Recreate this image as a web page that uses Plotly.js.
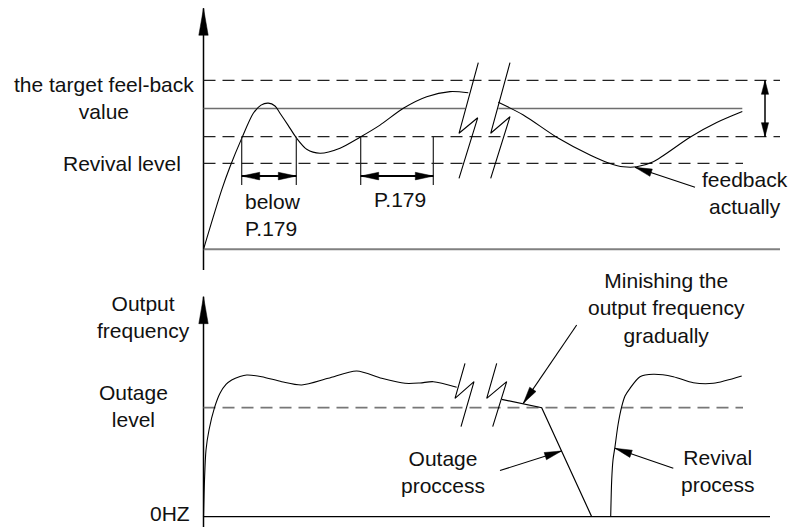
<!DOCTYPE html>
<html><head><meta charset="utf-8">
<script src="https://cdn.plot.ly/plotly-3.0.1.min.js"></script>
<style>html,body{margin:0;padding:0;background:#fff}</style>
</head><body><div id="chart" style="width:790px;height:527px"></div>
<script>
// ---------------- DATA ----------------
// Top panel: feedback value (arbitrary units)
const targetValue = 5;
const bandUpper = 6;
const bandLower = 4;
const revivalLevel = 3.05;
const topAxisExtent = [-0.735, 8.56];
const topLineEnd = 115.3;
const targetSeg1 = [0, 52.3];
const targetSeg2 = [58.96, 107.76];
const revivalEnd = 107.9;

const fbTime1 = [0, 3.64, 5.3, 7.64, 9.96, 11.5, 12.96, 14.3, 15.3, 16.9, 18.64, 20.64, 23.3, 27.3, 31.3, 35.3, 39.96, 44.64, 49.3, 52.96];
const fbValue1 = [0, 2.11, 2.93, 3.94, 4.83, 5.12, 5.19, 5.09, 4.83, 4.41, 3.94, 3.55, 3.41, 3.59, 3.98, 4.41, 5.01, 5.42, 5.6, 5.56];
const fbTime2 = [58.96, 63.96, 70.64, 77.3, 81.3, 83.96, 86.64, 89.96, 97.3, 102.64, 107.76];
const fbValue2 = [5.22, 4.77, 3.98, 3.35, 3.05, 2.93, 2.93, 3.11, 3.98, 4.5, 4.89];

const breakTopX1 = [54.96, 51.1, 54.84, 51.1];
const breakTopY1 = [6.63, 4.12, 4.67, 2.52];
const breakTopX2 = [61.3, 57.44, 61.3, 57.44];
const breakTopY2 = [6.63, 4.12, 4.71, 2.52];

const tickTimes = [7.64, 18.56, 31.44, 45.96];
const tickExtent = [4, 2.28];
const spanLevel = 2.6;
const bandArrowTime = 112.3;
const fbPointerTail = [98.3, 2.2];
const fbPointerTip = [86.3, 2.91];

// Bottom panel: output frequency (Hz)
const outageLevel = 30;
const botAxisExtent = [-2.835, 60.56];
const botLineEnd = 113.3;
const outageEnd = 107.9;
const freqTime1 = [0, 0.2, 0.5, 1.1, 2.2, 3.3, 4.5, 5.64, 7.3, 8.64, 11.64, 15.64, 19.64, 24.96, 30.64, 35.64, 40.3, 43.3, 45.96, 50.64];
const freqHz1 = [0, 10.1, 18.36, 23.86, 30, 33.97, 36.39, 37.63, 38.59, 39.0, 38.54, 37.16, 36.25, 38.1, 40.1, 38.1, 36.72, 36.8, 37.16, 35.62];
const freqTime2 = [59.64, 67.64, 77.64];
const freqHz2 = [32.31, 30, 0];
const freqTime3 = [81.44, 81.64, 81.9, 82.3, 82.9, 83.64, 84.3, 85.3, 87.3, 89.96, 93.96, 97.96, 101.96, 107.64];
const freqHz3 = [0, 10.1, 15.61, 19.27, 25.24, 30.28, 33.22, 35.34, 38.54, 39.2, 38.54, 36.88, 36.72, 38.73];

const breakBotX1 = [52.3, 50.3, 54.1, 51.5];
const breakBotX2 = [58.64, 56.64, 60.64, 57.84];
const breakBotY = [42.22, 32.59, 37.16, 24.77];

const minishTail = [74.64, 52.77];
const minishTip = [63.96, 31.2];
const outageTail = [59.3, 12.72];
const outageTip = [71.6, 18.08];
const revivalTail = [93.96, 13.32];
const revivalTip = [82.3, 18.83];

// ---------------- LAYOUT ----------------
const W = 790, H = 527;
const xRange = [-40.7, 117.3];
const yTopRange = [-9.862, 8.853];
const yBotRange = [-2.835, 142.22];
const kx = W / (xRange[1] - xRange[0]);
const kyTop = H / (yTopRange[1] - yTopRange[0]);
const kyBot = H / (yBotRange[1] - yBotRange[0]);

const traces = [];
function line(x, y, ax, color, width, dash, shape) {
  traces.push({type: 'scatter', mode: 'lines', x: x, y: y, yaxis: ax,
    line: {color: color, width: width, dash: dash || 'solid', shape: shape || 'linear', smoothing: 0.8},
    hoverinfo: 'skip', showlegend: false});
}
const DASH = '12px,7px';

// top panel
line([0, 0], topAxisExtent, 'y', '#000', 1.5);
line([0, topLineEnd], [0, 0], 'y', '#808080', 2);
line([0, topLineEnd], [bandUpper, bandUpper], 'y', '#222', 1.2, DASH);
line([0, topLineEnd], [bandLower, bandLower], 'y', '#222', 1.2, DASH);
line([0, revivalEnd], [revivalLevel, revivalLevel], 'y', '#222', 1.2, DASH);
line([targetSeg1[0], targetSeg1[1], null, targetSeg2[0], targetSeg2[1]],
     [targetValue, targetValue, null, targetValue, targetValue], 'y', '#6e6e6e', 1.4);
line(fbTime1, fbValue1, 'y', '#000', 1.1, null, 'spline');
line(fbTime2, fbValue2, 'y', '#000', 1.1, null, 'spline');
line(breakTopX1, breakTopY1, 'y', '#000', 1.1);
line(breakTopX2, breakTopY2, 'y', '#000', 1.1);
const tx = [], ty = [];
tickTimes.forEach(t => { tx.push(t, t, null); ty.push(tickExtent[0], tickExtent[1], null); });
line(tx, ty, 'y', '#222', 1.2);
line([tickTimes[0], tickTimes[1], null, tickTimes[2], tickTimes[3]],
     [spanLevel, spanLevel, null, spanLevel, spanLevel], 'y', '#000', 2);
line([bandArrowTime, bandArrowTime], [bandLower, bandUpper], 'y', '#000', 1.5);
line([fbPointerTail[0], fbPointerTip[0]], [fbPointerTail[1], fbPointerTip[1]], 'y', '#000', 1.1);

// bottom panel
line([0, 0], botAxisExtent, 'y2', '#000', 1.5);
line([0, botLineEnd], [0, 0], 'y2', '#000', 1.3);
line([0, outageEnd], [outageLevel, outageLevel], 'y2', '#777', 1.8, DASH);
line(freqTime1, freqHz1, 'y2', '#000', 1.1, null, 'spline');
line(freqTime2, freqHz2, 'y2', '#000', 1.2);
line(freqTime3, freqHz3, 'y2', '#000', 1.1, null, 'spline');
line(breakBotX1, breakBotY, 'y2', '#000', 1.1);
line(breakBotX2, breakBotY, 'y2', '#000', 1.1);
[[minishTail, minishTip], [outageTail, outageTip], [revivalTail, revivalTip]].forEach(p => {
  line([p[0][0], p[1][0]], [p[0][1], p[1][1]], 'y2', '#000', 1.1);
});

// arrowheads as pixel-sized shapes anchored on data points
const shapes = [];
function head(yref, tip, from, len, hw) {
  const ky = yref === 'y' ? kyTop : kyBot;
  let dx = (tip[0] - from[0]) * kx, dy = (tip[1] - from[1]) * ky;
  const n = Math.hypot(dx, dy); dx /= n; dy /= n;
  const bx = -dx * len, by = -dy * len, px = -dy, py = dx;
  const f = v => v.toFixed(2);
  shapes.push({type: 'path', xref: 'x', yref: yref, xsizemode: 'pixel', ysizemode: 'pixel',
    xanchor: tip[0], yanchor: tip[1],
    path: 'M0,0L' + f(bx + px * hw) + ',' + f(by + py * hw) + 'L' + f(bx - px * hw) + ',' + f(by - py * hw) + 'Z',
    fillcolor: '#000', line: {color: '#000', width: 0.5}});
}
head('y', [0, topAxisExtent[1]], [0, 0], 27, 4.7);
head('y2', [0, botAxisExtent[1]], [0, 0], 27, 4.7);
head('y', [tickTimes[0], spanLevel], [tickTimes[1], spanLevel], 18, 3.8);
head('y', [tickTimes[1], spanLevel], [tickTimes[0], spanLevel], 18, 3.8);
head('y', [tickTimes[2], spanLevel], [tickTimes[3], spanLevel], 18, 3.8);
head('y', [tickTimes[3], spanLevel], [tickTimes[2], spanLevel], 18, 3.8);
head('y', [bandArrowTime, bandUpper], [bandArrowTime, bandLower], 14, 3.6);
head('y', [bandArrowTime, bandLower], [bandArrowTime, bandUpper], 14, 3.6);
head('y', fbPointerTip, fbPointerTail, 17, 3.8);
head('y2', minishTip, minishTail, 17, 3.8);
head('y2', outageTip, outageTail, 17, 3.8);
head('y2', revivalTip, revivalTail, 17, 3.8);

const FONT = {family: 'Liberation Sans, Arial, Helvetica, sans-serif', size: 21, color: '#111'};
function label(text, x, y, yref, xanchor, align) {
  return {text: text, x: x, y: y, xref: 'x', yref: yref, showarrow: false,
    xanchor: xanchor || 'center', yanchor: 'middle', align: align || 'center', font: FONT};
}
const annotations = [
  label('the target feel-back<br>value', -19.9, 5.373, 'y'),
  label('Revival level', -16.3, 3.04, 'y'),
  label('below<br>P.179', 7.96, 1.218, 'y', 'left', 'left'),
  label('P.179', 39.3, 1.768, 'y'),
  label('feedback<br>actually', 108.3, 1.989, 'y'),
  label('Output<br>frequency', -12.04, 55.05, 'y2'),
  label('Outage<br>level', -13.94, 30.53, 'y2'),
  label('0HZ', -6.7, 0.95, 'y2'),
  label('Minishing the<br>output frequency<br>gradually', 92.5, 57.45, 'y2'),
  label('Outage<br>proccess', 47.9, 12.17, 'y2'),
  label('Revival<br>process', 102.8, 12.58, 'y2')
];

const layout = {
  width: W, height: H, margin: {l: 0, r: 0, t: 0, b: 0, pad: 0},
  paper_bgcolor: '#fff', plot_bgcolor: '#fff', showlegend: false,
  xaxis: {range: xRange, autorange: false, visible: false, fixedrange: true},
  yaxis: {range: yTopRange, autorange: false, visible: false, fixedrange: true},
  yaxis2: {range: yBotRange, autorange: false, visible: false, overlaying: 'y', fixedrange: true},
  shapes: shapes, annotations: annotations
};
Plotly.newPlot('chart', traces, layout, {staticPlot: true, displayModeBar: false});
</script></body></html>
